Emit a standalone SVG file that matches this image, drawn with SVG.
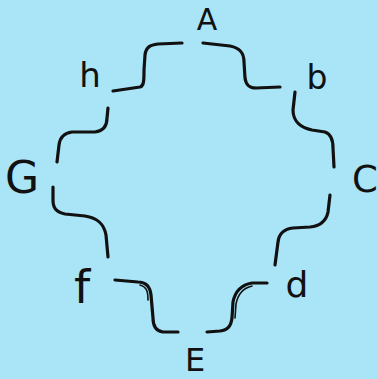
<svg xmlns="http://www.w3.org/2000/svg" width="378" height="379" viewBox="0 0 378 379">
<style>
.bg{fill:#aae4f7}
.lbl{font-family:"DejaVu Sans","Liberation Sans",sans-serif;fill:#111;text-anchor:middle}
.wire{fill:none;stroke:#111;stroke-width:3.2;stroke-linecap:round;stroke-linejoin:round}
.thin{fill:none;stroke:#111;stroke-width:1.6;stroke-linecap:round}
</style>
<rect class="bg" x="0" y="0" width="378" height="379"/>
<g id="connectors">
<path class="wire" d="M113,91 L140,87 C144,86 144,80 144,70 L145,55 C146,47 150,45 158,44 L182,43"/>
<path class="wire" d="M203,43 L230,46 C241,48 244,54 244,62 L245,78 C246,85 249,88 256,88 L280,87"/>
<path class="wire" d="M295,92 L293,110 C293,122 302,128 312,130 L325,132 C331,134 333,140 333,148 L334,167"/>
<path class="wire" d="M330,195 L328,212 C326,222 320,226 310,227 L293,228 C284,229 279,233 278,242 L275,265"/>
<path class="wire" d="M267,283 L252,283 C240,285 235,292 233,302 L232,318 C231,326 228,330 220,331 L207,332"/>
<path class="thin" d="M252,286 C243,288 238,294 236,304 L235,318"/>
<path class="wire" d="M178,332 L163,332 C156,331 153,326 153,318 L151,295 C150,286 146,282 138,282 L115,280"/>
<path class="thin" d="M140,285 C147,287 148,292 148,300"/>
<path class="wire" d="M108,257 L106,235 C104,224 98,218 85,216 L65,214 C56,212 53,208 53,200 L53,187"/>
<path class="wire" d="M57,162 L59,145 C60,137 64,133 72,132 L95,132 C103,131 107,126 107,118 L108,108"/>
</g>
<g id="node-A"><text class="lbl" x="207" y="30" font-size="30">A</text></g>
<g id="node-b"><text class="lbl" x="317" y="89" font-size="33">b</text></g>
<g id="node-C"><text class="lbl" x="365" y="192" font-size="37">C</text></g>
<g id="node-d"><text class="lbl" x="297" y="297" font-size="36">d</text></g>
<g id="node-E"><text class="lbl" x="195" y="371" font-size="32">E</text></g>
<g id="node-f"><text class="lbl" x="82" y="303" font-size="46">f</text></g>
<g id="node-G"><text class="lbl" x="22" y="193" font-size="44">G</text></g>
<g id="node-h"><text class="lbl" x="90" y="87" font-size="34">h</text></g>
</svg>
